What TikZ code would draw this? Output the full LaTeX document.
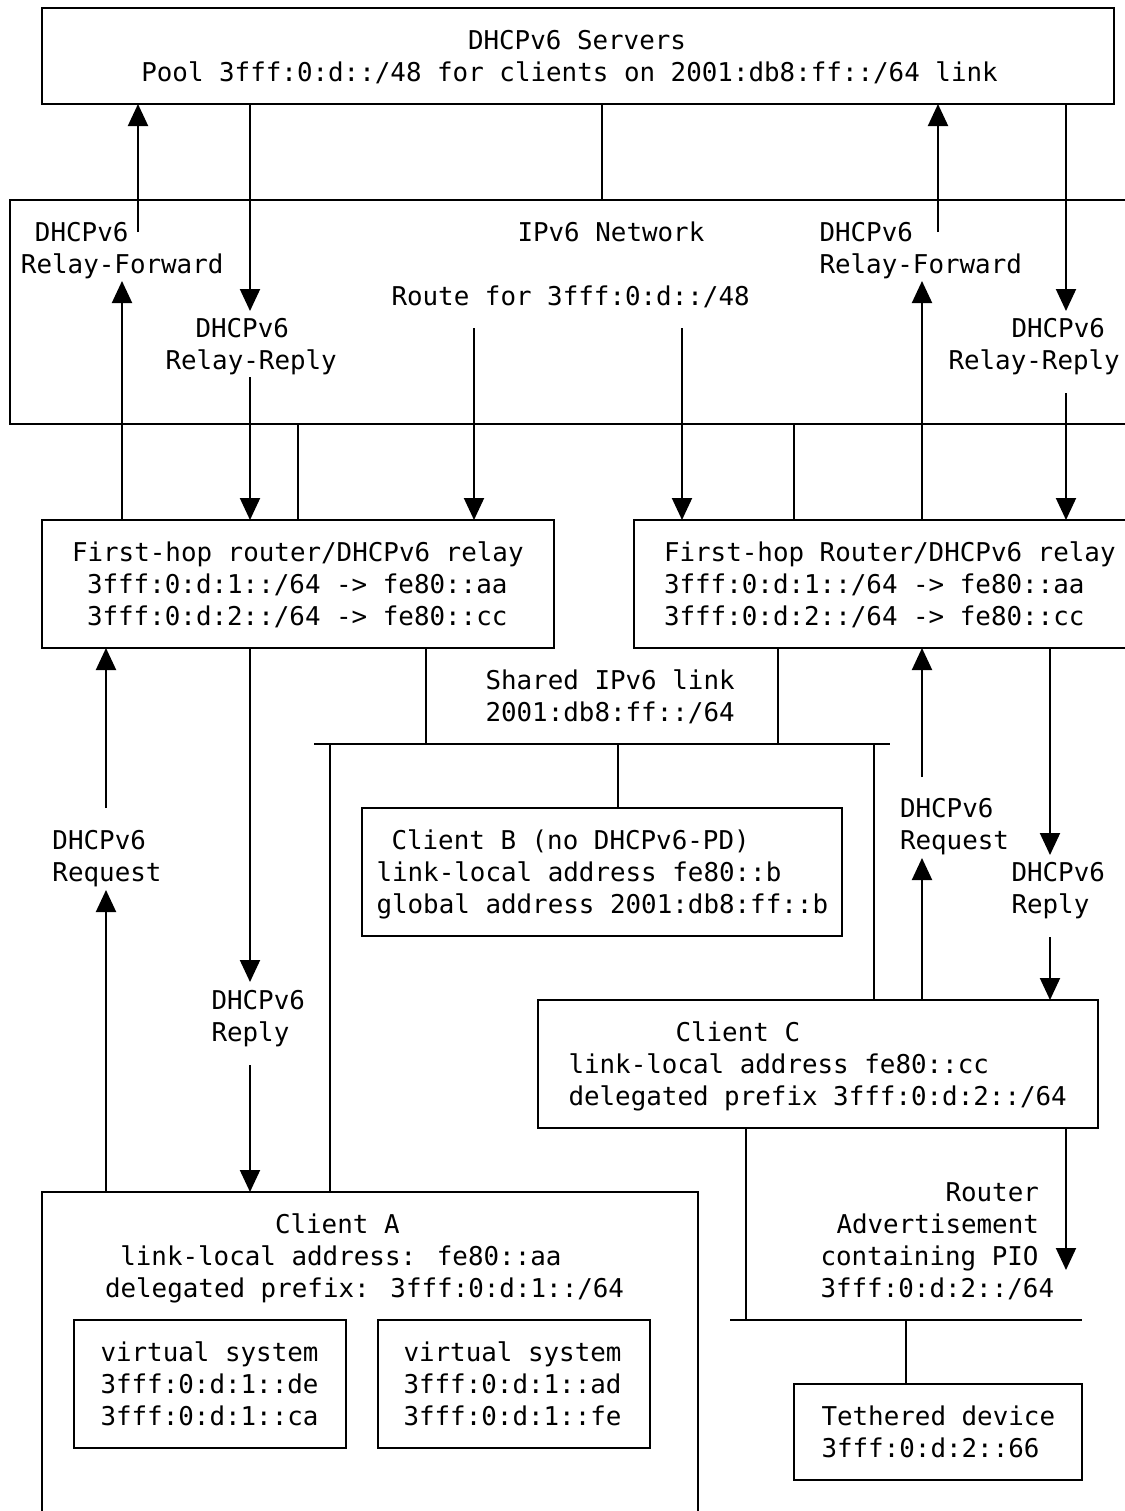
\documentclass[tikz,border=0pt]{standalone}
\usepackage{fontspec}
\newfontfamily\dmono{DejaVu Sans Mono}
\usetikzlibrary{arrows.meta,fit}
\begin{document}
\begin{tikzpicture}[x=0.75pt,y=-0.75pt,line width=1.5pt,
  box/.style={draw, inner sep=0pt, outer sep=0pt, line width=1.5pt},
  arr/.style={-{Triangle[length=16.5pt,width=15pt]}},
  lbl/.style={anchor=west, inner sep=0pt, text height=14.2pt, text depth=0pt,
    font=\dmono\fontsize{19.4}{23}\selectfont}]
\useasboundingbox (0,0) rectangle (1125,1511);
\fill[white] (0,0) rectangle (1125,1511);
\clip (0,0) rectangle (1125,1511);

% box corners
\coordinate (srvA) at (42,8);     \coordinate (srvB) at (1114,104);
\coordinate (netA) at (10,200);   \coordinate (netB) at (1150,424);
\coordinate (rlA) at (42,520);    \coordinate (rlB) at (554,648);
\coordinate (rrA) at (634,520);   \coordinate (rrB) at (1150,648);
\coordinate (cbA) at (362,808);   \coordinate (cbB) at (842,936);
\coordinate (ccA) at (538,1000);  \coordinate (ccB) at (1098,1128);
\coordinate (caA) at (42,1192);   \coordinate (caB) at (698,1545);
\coordinate (v1A) at (74,1320);   \coordinate (v1B) at (346,1448);
\coordinate (v2A) at (378,1320);  \coordinate (v2B) at (650,1448);
\coordinate (tdA) at (794,1384);  \coordinate (tdB) at (1082,1480);

% boxes
\node[box, fit=(srvA) (srvB)] (srv) {};
\node[box, fit=(netA) (netB)] (net) {};
\node[box, fit=(rlA) (rlB)] (rl) {};
\node[box, fit=(rrA) (rrB)] (rr) {};
\node[box, fit=(cbA) (cbB)] (cb) {};
\node[box, fit=(ccA) (ccB)] (cc) {};
\node[box, fit=(caA) (caB)] (ca) {};
\node[box, fit=(v1A) (v1B)] (v1) {};
\node[box, fit=(v2A) (v2B)] (v2) {};
\node[box, fit=(tdA) (tdB)] (td) {};

% links
\coordinate (L1w) at (314,744);
\coordinate (L1e) at (890,744);
\coordinate (L2w) at (730,1320);
\coordinate (L2e) at (1082,1320);
\draw (L1w) -- (L1e);
\draw (L2w) -- (L2e);

% columns
\coordinate (c105) at (106,0);
\coordinate (c122) at (122,0);
\coordinate (c137) at (138,0);
\coordinate (c250) at (250,0);
\coordinate (c298) at (298,0);
\coordinate (c330) at (330,0);
\coordinate (c426) at (426,0);
\coordinate (c474) at (474,0);
\coordinate (c602) at (602,0);
\coordinate (c618) at (618,0);
\coordinate (c682) at (682,0);
\coordinate (c746) at (746,0);
\coordinate (c778) at (778,0);
\coordinate (c794) at (794,0);
\coordinate (c874) at (874,0);
\coordinate (c906) at (906,0);
\coordinate (c922) at (922,0);
\coordinate (c938) at (938,0);
\coordinate (c1050) at (1050,0);
\coordinate (c1066) at (1066,0);

% free ends
\coordinate (f1) at (138,232);
\coordinate (f2) at (250,311);
\coordinate (f3) at (938,232);
\coordinate (f4) at (1066,311);
\coordinate (f5) at (122,281);
\coordinate (f6) at (250,377);
\coordinate (f7) at (474,328);
\coordinate (f8) at (682,328);
\coordinate (f9) at (922,281);
\coordinate (f10) at (1066,393);
\coordinate (f11) at (106,808);
\coordinate (f12) at (106,890);
\coordinate (f13) at (250,982);
\coordinate (f14) at (250,1065);
\coordinate (f15) at (922,777);
\coordinate (f16) at (922,858);
\coordinate (f17) at (1050,855);
\coordinate (f18) at (1050,937);
\coordinate (f19) at (1066,1270);

% connectors
\draw[arr] (f1) -- (c137 |- srv.south);
\draw[arr] (c250 |- srv.south) -- (f2);
\draw (c602 |- srv.south) -- (c602 |- net.north);
\draw[arr] (f3) -- (c938 |- srv.south);
\draw[arr] (c1066 |- srv.south) -- (f4);
\draw[arr] (c122 |- rl.north) -- (f5);
\draw[arr] (f6) -- (c250 |- rl.north);
\draw (c298 |- net.south) -- (c298 |- rl.north);
\draw[arr] (f7) -- (c474 |- rl.north);
\draw[arr] (f8) -- (c682 |- rr.north);
\draw (c794 |- net.south) -- (c794 |- rr.north);
\draw[arr] (c922 |- rr.north) -- (f9);
\draw[arr] (f10) -- (c1066 |- rr.north);
\draw[arr] (f11) -- (c105 |- rl.south);
\draw[arr] (c105 |- ca.north) -- (f12);
\draw[arr] (c250 |- rl.south) -- (f13);
\draw[arr] (f14) -- (c250 |- ca.north);
\draw (c426 |- rl.south) -- (c426 |- L1w);
\draw (c330 |- L1w) -- (c330 |- ca.north);
\draw (c618 |- L1w) -- (c618 |- cb.north);
\draw (c778 |- rr.south) -- (c778 |- L1w);
\draw (c874 |- L1w) -- (c874 |- cc.north);
\draw[arr] (f15) -- (c922 |- rr.south);
\draw[arr] (c922 |- cc.north) -- (f16);
\draw[arr] (c1050 |- rr.south) -- (f17);
\draw[arr] (f18) -- (c1050 |- cc.north);
\draw (c746 |- cc.south) -- (c746 |- L2w);
\draw[arr] (c1066 |- cc.south) -- (f19);
\draw (c906 |- L2w) -- (c906 |- td.north);

% texts
\node[lbl] (t1) at (467,40) {DHCPv6 Servers};
\node[lbl] (t2) at (140.3,72) {Pool 3fff:0:d::/48 for clients on 2001:db8:ff::/64 link};
\node[lbl] (t3) at (34,232) {DHCPv6};
\node[lbl] (t4) at (20,264) {Relay-Forward};
\node[lbl] (t5) at (516.5,232) {IPv6 Network};
\node[lbl] (t6) at (390.5,296) {Route for 3fff:0:d::/48};
\node[lbl] (t7) at (194.5,328) {DHCPv6};
\node[lbl] (t8) at (164.5,360) {Relay-Reply};
\node[lbl] (t9) at (818.5,232) {DHCPv6};
\node[lbl] (t10) at (818.5,264) {Relay-Forward};
\node[lbl] (t11) at (1010.5,328) {DHCPv6};
\node[lbl] (t12) at (947.5,360) {Relay-Reply};
\node[lbl] (t13) at (71,552) {First-hop router/DHCPv6 relay};
\node[lbl] (t14) at (86,584) {3fff:0:d:1::/64 -> fe80::aa};
\node[lbl] (t15) at (86,616) {3fff:0:d:2::/64 -> fe80::cc};
\node[lbl] (t16) at (663,552) {First-hop Router/DHCPv6 relay};
\node[lbl] (t17) at (663,584) {3fff:0:d:1::/64 -> fe80::aa};
\node[lbl] (t18) at (663,616) {3fff:0:d:2::/64 -> fe80::cc};
\node[lbl] (t19) at (484.5,680) {Shared IPv6 link};
\node[lbl] (t20) at (484.5,712) {2001:db8:ff::/64};
\node[lbl] (t21) at (51.5,840) {DHCPv6};
\node[lbl] (t22) at (51.5,872) {Request};
\node[lbl] (t23) at (390.5,840) {Client B (no DHCPv6-PD)};
\node[lbl] (t24) at (375.5,872) {link-local address fe80::b};
\node[lbl] (t25) at (375.5,904) {global address 2001:db8:ff::b};
\node[lbl] (t26) at (899,808) {DHCPv6};
\node[lbl] (t27) at (899,840) {Request};
\node[lbl] (t28) at (1010.5,872) {DHCPv6};
\node[lbl] (t29) at (1010.5,904) {Reply};
\node[lbl] (t30) at (210.5,1000) {DHCPv6};
\node[lbl] (t31) at (210.5,1032) {Reply};
\node[lbl] (t32) at (674.5,1032) {Client C};
\node[lbl] (t33) at (567.5,1064) {link-local address fe80::cc};
\node[lbl] (t34) at (567.5,1096) {delegated prefix 3fff:0:d:2::/64};
\node[lbl] (t35) at (274,1224) {Client A};
\node[lbl] (t36) at (119.3,1256) {link-local address: fe80::aa};
\node[lbl] (t37) at (104,1288) {delegated prefix: 3fff:0:d:1::/64};
\node[lbl] (t38) at (99.5,1352) {virtual system};
\node[lbl] (t39) at (99.5,1384) {3fff:0:d:1::de};
\node[lbl] (t40) at (99.5,1416) {3fff:0:d:1::ca};
\node[lbl] (t41) at (402.5,1352) {virtual system};
\node[lbl] (t42) at (402.5,1384) {3fff:0:d:1::ad};
\node[lbl] (t43) at (402.5,1416) {3fff:0:d:1::fe};
\node[lbl] (t44) at (944.5,1192) {Router};
\node[lbl] (t45) at (835.5,1224) {Advertisement};
\node[lbl] (t46) at (819.5,1256) {containing PIO};
\node[lbl] (t47) at (819.5,1288) {3fff:0:d:2::/64};
\node[lbl] (t48) at (820.5,1416) {Tethered device};
\node[lbl] (t49) at (820.5,1448) {3fff:0:d:2::66};
\end{tikzpicture}
\end{document}
